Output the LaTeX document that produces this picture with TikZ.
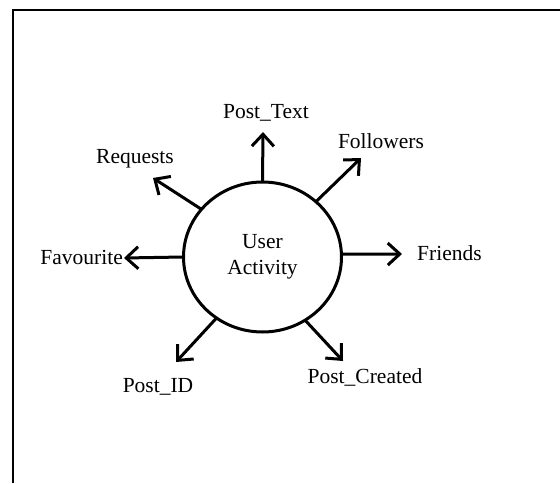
\documentclass[tikz,border=0pt]{standalone}
\usepackage{fontspec}
\setmainfont{Liberation Serif}
\usetikzlibrary{arrows.meta,shapes.geometric}
\tikzstyle{activity}=[ellipse, draw, line width=3pt, inner sep=0pt, outer sep=0pt,
    minimum width=158pt, minimum height=150pt, align=center]
\tikzstyle{attr}=[inner sep=0pt]
\newcommand{\attr}{\node[attr]}

\begin{document}
\begin{tikzpicture}[x=1pt, y=1pt
    ,font=\fontsize{21.5}{25.8}\selectfont
    ,every edge/.style={
        draw, line width=3pt,
        -{Straight Barb[length=12pt,width=22pt,line width=3pt]} }
]
\useasboundingbox (0,0) rectangle (560,483);
\draw[line width=1.5pt] (13,0) |- (560,473);
\node[activity] (ua) at (262.5,226) {User\\Activity};
% free ends of the arrows
\coordinate (tt) at (263,351);
\coordinate (fo) at (361,325);
\coordinate (rq) at (153,305);
\coordinate (fa) at (124,225);
\coordinate (fr) at (402,229);
\coordinate (pi) at (176,121);
\coordinate (pc) at (343,122);
\attr (ltt) at (266,370) {Post\_Text};
\attr (lfo) at (381,342) {Followers};
\attr (lrq) at (135,324) {Requests};
\attr[anchor=east] (lfa) at (123,226) {Favourite};
\attr[anchor=west] (lfr) at (417,230) {Friends};
\attr (lpi) at (158,96) {Post\_ID};
\attr (lpc) at (365,106) {Post\_Created};
\path
(ua.90) edge (tt)
(ua.46.8) edge (fo)
(ua.142) edge (rq)
(ua.180) edge (fa)
(ua.2.2) edge (fr)
(ua.233) edge (pi)
(ua.304) edge (pc)
;
\end{tikzpicture}
\end{document}
